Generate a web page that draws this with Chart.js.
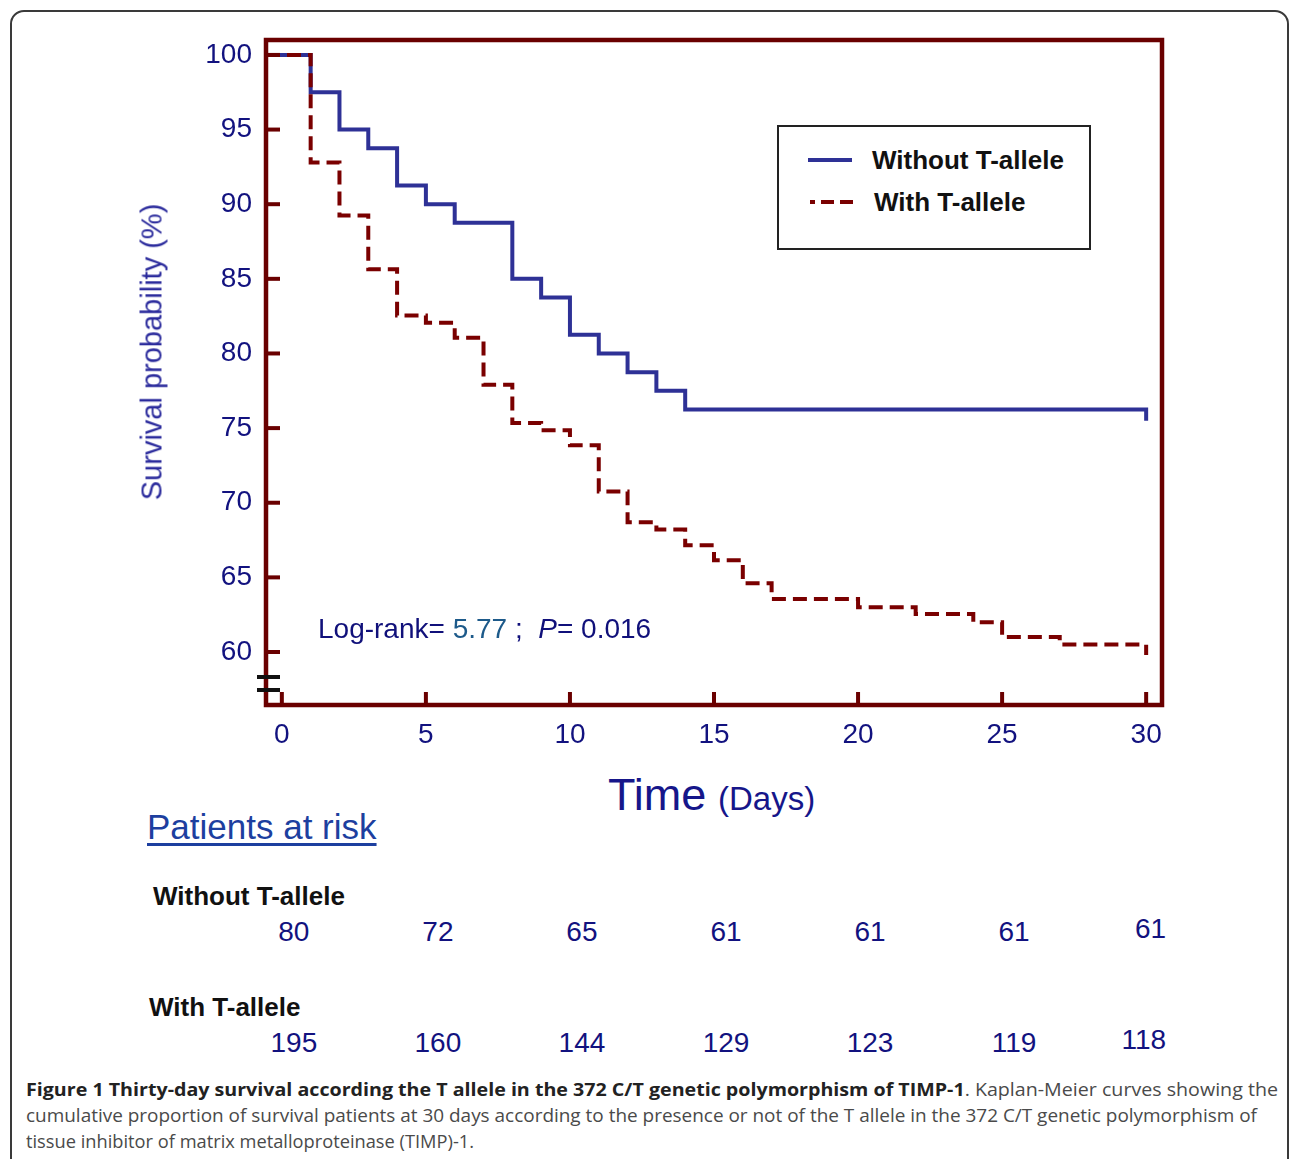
<!DOCTYPE html>
<html>
<head>
<meta charset="utf-8">
<script src="https://cdn.jsdelivr.net/npm/chart.js@4.4.1/dist/chart.umd.min.js"></script>
<style>
html,body{margin:0;padding:0;background:#fff;}
body{width:1292px;height:1159px;overflow:hidden;position:relative;font-family:"Liberation Sans",Arial,sans-serif;}
#figframe{position:absolute;left:10px;top:10px;width:1279px;height:1260px;border:2px solid #3a3a3a;border-radius:14px;box-sizing:border-box;}
#chart{position:absolute;left:0;top:0;}
.abs{position:absolute;white-space:nowrap;line-height:1;}
#ytitle{left:152px;top:352px;font-size:29px;color:#2a2a9c;transform:translate(-50%,-50%) rotate(-90deg);}
#logrank{left:318px;top:615px;font-size:28px;color:#10107a;}
#logrank .v{color:#1d5a8a;}
#legend{position:absolute;left:777px;top:125px;width:314px;height:125px;border:2px solid #222;box-sizing:border-box;background:#fff;}
.legtxt{font-weight:bold;font-size:26px;color:#111;}
#time{left:608px;top:772px;font-size:45px;color:#16168a;}
#days{left:718px;top:782px;font-size:33px;color:#16168a;}
#par{left:147px;top:809px;font-size:35px;color:#1d3f9f;text-decoration:underline;text-decoration-thickness:3px;text-underline-offset:4px;}
.rowlab{font-weight:bold;font-size:26px;color:#111;}
.num{font-size:28px;color:#12127f;}
.cap{left:26px;font-family:"Open Sans",sans-serif;font-size:18px;color:#4a4a4a;transform-origin:0 0;}
.cap b{color:#222;}
</style>
</head>
<body>
<div id="figframe"></div>
<canvas id="chart" width="1292" height="760"></canvas>

<div class="abs" id="ytitle">Survival probability (%)</div>
<div class="abs" id="logrank">Log-rank= <span class="v">5.77</span> ;&nbsp; <i>P</i>= 0.016</div>

<div id="legend"></div>
<svg style="position:absolute;left:0;top:0;overflow:visible" width="1292" height="300">
  <line x1="808" y1="160" x2="852" y2="160" stroke="#2e3196" stroke-width="4"/>
  <line x1="810" y1="202" x2="853" y2="202" stroke="#7a0000" stroke-width="4" stroke-dasharray="13 6" stroke-dashoffset="8"/>
</svg>
<div class="abs legtxt" style="left:872px;top:147px;">Without T-allele</div>
<div class="abs legtxt" style="left:874px;top:189px;">With T-allele</div>

<div class="abs" id="time">Time</div>
<div class="abs" id="days">(Days)</div>
<div class="abs" id="par">Patients at risk</div>
<div class="abs rowlab" style="left:153px;top:883px;">Without T-allele</div>
<div class="abs rowlab" style="left:149px;top:994px;">With T-allele</div>
<div id="nums"></div>

<div class="abs cap" style="top:1080px;" data-w="1252"><b>Figure 1 Thirty-day survival according the T allele in the 372 C/T genetic polymorphism of TIMP-1</b>. Kaplan-Meier curves showing the</div>
<div class="abs cap" style="top:1106px;" data-w="1231">cumulative proportion of survival patients at 30 days according to the presence or not of the T allele in the 372 C/T genetic polymorphism of</div>
<div class="abs cap" style="top:1132px;" data-w="448">tissue inhibitor of matrix metalloproteinase (TIMP)-1.</div>

<script>
// ---- data ----
const X_MIN = -0.55, X_MAX = 30.55;
const Y_MIN = 56.45, Y_MAX = 101;
const xTicks = [0, 5, 10, 15, 20, 25, 30];
const yTicks = [60, 65, 70, 75, 80, 85, 90, 95, 100];

const withoutTimes = [X_MIN, 1, 2, 3, 4, 5, 6, 8, 9, 10, 11, 12, 13, 14, 30];
const withoutSurv  = [100, 97.5, 95, 93.75, 91.25, 90, 88.75, 85, 83.75, 81.25, 80, 78.75, 77.5, 76.25, 75.5];

const withTimes = [X_MIN, 1, 2, 3, 4, 5, 6, 7, 8, 9, 10, 11, 12, 13, 14, 15, 16, 17, 20, 22, 24, 25, 27, 30];
const withSurv  = [100, 92.8, 89.25, 85.65, 82.55, 82.05, 81.05, 77.9, 75.35, 74.85, 73.85, 70.75, 68.7, 68.2, 67.15, 66.15, 64.6, 63.55, 63.0, 62.55, 62.0, 61.0, 60.5, 59.8];

const riskDays = [0, 5, 10, 15, 20, 25, 30];
const riskWithout = [80, 72, 65, 61, 61, 61, 61];
const riskWith = [195, 160, 144, 129, 123, 119, 118];

// ---- styles ----
const BLUE = '#2e3196';
const RED = '#7a0000';
const FRAME = '#6a0000';
const NAVY = '#12127f';

const framePlugin = {
  id: 'frame',
  afterDatasetsDraw(chart) {
    const {ctx, chartArea: a, scales: {x, y}} = chart;
    ctx.save();
    ctx.strokeStyle = FRAME;
    ctx.lineWidth = 4.5;
    ctx.strokeRect(a.left, a.top, a.right - a.left, a.bottom - a.top);
    ctx.lineWidth = 4;
    yTicks.forEach(v => {
      const py = y.getPixelForValue(v);
      ctx.beginPath(); ctx.moveTo(a.left, py); ctx.lineTo(a.left + 14, py); ctx.stroke();
    });
    xTicks.forEach(v => {
      const px = x.getPixelForValue(v);
      ctx.beginPath(); ctx.moveTo(px, a.bottom); ctx.lineTo(px, a.bottom - 13); ctx.stroke();
    });
    // axis break marks
    ctx.strokeStyle = '#111';
    ctx.lineWidth = 4;
    [28, 15].forEach(off => {
      ctx.beginPath(); ctx.moveTo(a.left - 9, a.bottom - off); ctx.lineTo(a.left + 14, a.bottom - off); ctx.stroke();
    });
    ctx.restore();
  }
};

const tickFont = {family: '"Liberation Sans", Arial, sans-serif', size: 28};

const chart = new Chart(document.getElementById('chart'), {
  type: 'line',
  data: {
    datasets: [
      {
        label: 'With T-allele',
        data: withTimes.map((t, i) => ({x: t, y: withSurv[i]})),
        borderColor: RED, borderWidth: 4, borderDash: [14, 7],
        stepped: 'before', pointRadius: 0, fill: false
      },
      {
        label: 'Without T-allele',
        data: withoutTimes.map((t, i) => ({x: t, y: withoutSurv[i]})),
        borderColor: BLUE, borderWidth: 4,
        stepped: 'before', pointRadius: 0, fill: false
      }
    ]
  },
  options: {
    responsive: false,
    animation: false,
    devicePixelRatio: 1,
    layout: {padding: {top: 40, right: 130, left: 0, bottom: 0}},
    plugins: {legend: {display: false}, tooltip: {enabled: false}},
    scales: {
      x: {
        type: 'linear', min: X_MIN, max: X_MAX,
        afterBuildTicks: s => { s.ticks = xTicks.map(v => ({value: v})); },
        afterFit: s => { s.height = 55; },
        grid: {display: false, drawTicks: false},
        border: {display: false},
        ticks: {padding: 13, color: NAVY, font: tickFont, maxRotation: 0, autoSkip: false}
      },
      y: {
        type: 'linear', min: Y_MIN, max: Y_MAX,
        afterBuildTicks: s => { s.ticks = yTicks.map(v => ({value: v})); },
        afterFit: s => { s.width = 266; },
        grid: {display: false, drawTicks: false},
        border: {display: false},
        ticks: {padding: 14, color: NAVY, font: tickFont, autoSkip: false}
      }
    }
  },
  plugins: [framePlugin]
});

// ---- patients at risk table, aligned to the x scale ----
const numsDiv = document.getElementById('nums');
function addRow(vals, topPx) {
  vals.forEach((v, i) => {
    const d = document.createElement('div');
    d.className = 'abs num';
    d.textContent = v;
    const px = chart.scales.x.getPixelForValue(riskDays[i]);
    if (i === vals.length - 1) {
      d.style.left = (px + 20) + 'px';
      d.style.top = (topPx - 3) + 'px';
      d.style.transform = 'translateX(-100%)';
    } else {
      d.style.left = (px + 12) + 'px';
      d.style.top = topPx + 'px';
      d.style.transform = 'translateX(-50%)';
    }
    numsDiv.appendChild(d);
  });
}
addRow(riskWithout, 918);
addRow(riskWith, 1029);

// ---- fit caption lines to their widths ----
document.querySelectorAll('.cap').forEach(el => {
  const w = el.getBoundingClientRect().width;
  const target = parseFloat(el.dataset.w);
  el.style.transform = 'scaleX(' + (target / w) + ')';
});
</script>
</body>
</html>
